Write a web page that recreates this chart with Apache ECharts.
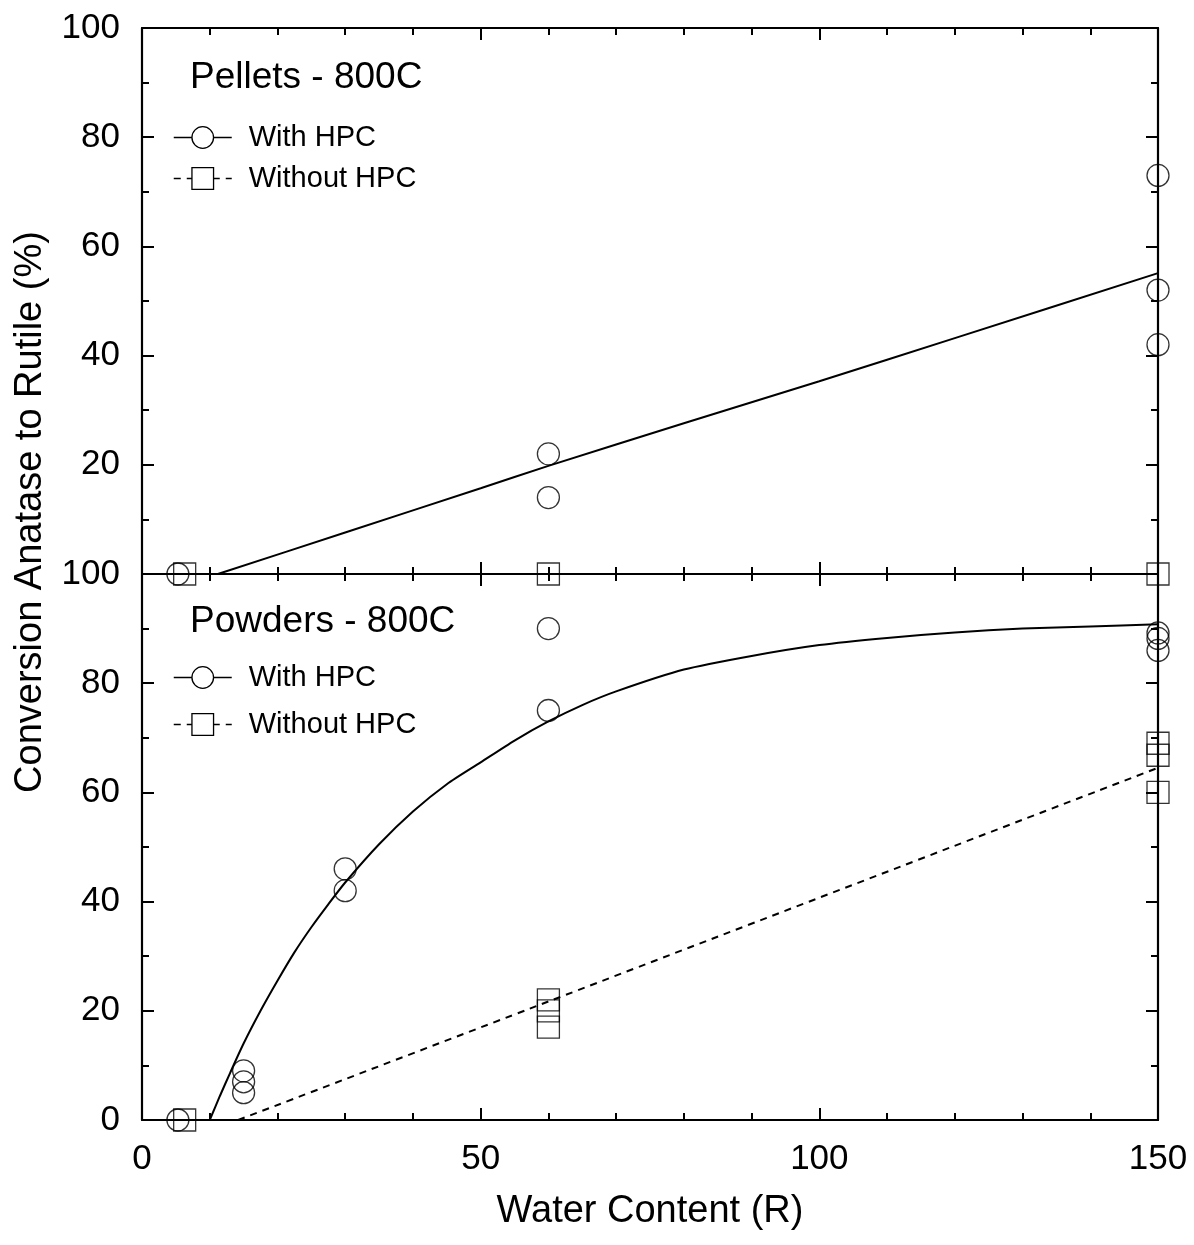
<!DOCTYPE html>
<html>
<head>
<meta charset="utf-8">
<title>Conversion Anatase to Rutile</title>
<script src="https://cdn.jsdelivr.net/npm/echarts@6/dist/echarts.min.js"></script>
<style>
  html, body { margin: 0; padding: 0; background: #fff; }
  #chart { width: 1194px; height: 1245px; }
</style>
</head>
<body>
<div id="chart"></div>
<script>
// axis ticks
const xLabels = [0, 50, 100, 150];
const yLabels = [0, 20, 40, 60, 80, 100];

// Pellets - 800C : measured points [R, %]
const pelletsWithPts = [[5.3, 0], [60, 22], [60, 14], [150, 73], [150, 52], [150, 42]];
const pelletsWithoutPts = [[6.3, 0], [60, 0], [150, 0]];
// fitted lines
const pelletsWithFit = [[11.2, 0], [30, 7.6], [50, 15.7], [60, 19.8], [80, 27.6], [100, 35.3], [120, 43.2], [150, 55.1]];
const pelletsWithoutFit = [[6.3, 0], [150, 0]];

// Powders - 800C : measured points
const powdersWithPts = [[5.3, 0], [15, 9], [15, 7], [15, 5], [30, 46], [30, 42], [60, 90], [60, 75], [150, 89.2], [150, 88.2], [150, 86]];
const powdersWithoutPts = [[6.3, 0], [60, 22], [60, 20], [60, 17], [150, 69], [150, 66.8], [150, 60]];
// fitted lines
const powdersWithFit = [[10, 0], [11.5, 4.4], [13, 8.6], [15, 14], [17.5, 20], [20, 25.5], [22.5, 30.7], [25, 35.3],
  [27.5, 39.5], [30, 43.5], [35, 50.5], [40, 56.5], [45, 61.5], [50, 65.5], [55, 69.5], [60, 73], [65, 76],
  [70, 78.5], [80, 82.5], [90, 85], [100, 87], [110, 88.3], [120, 89.3], [130, 90], [140, 90.4], [150, 90.8]];
const powdersWithoutFit = [[14.2, 0], [60, 21.7], [150, 64.5]];

const FONT = 'Liberation Sans';
const axisLine = { show: true, onZero: false, lineStyle: { color: '#000', width: 2.2 } };

function xAxisFor(gridIndex, position, showLabels) {
  return {
    type: 'value', gridIndex: gridIndex, position: position,
    min: 0, max: 150, interval: 50,
    axisLine: axisLine,
    axisTick: { show: true, inside: true, length: 12, lineStyle: { color: '#000', width: 2 } },
    minorTick: { show: true, splitNumber: 5, length: 7, lineStyle: { color: '#000', width: 2 } },
    splitLine: { show: false },
    axisLabel: {
      show: showLabels, margin: 22, color: '#000', fontFamily: FONT, fontSize: 35,
      formatter: v => xLabels.includes(v) ? String(v) : ''
    },
    name: showLabels ? 'Water Content (R)' : '',
    nameLocation: 'middle', nameGap: 73,
    nameTextStyle: { color: '#000', fontFamily: FONT, fontSize: 38 }
  };
}

function yAxisFor(gridIndex, position, showLabels, hideZero) {
  return {
    type: 'value', gridIndex: gridIndex, position: position,
    min: 0, max: 100, interval: 20,
    axisLine: axisLine,
    axisTick: { show: true, inside: true, length: 12, lineStyle: { color: '#000', width: 2 } },
    minorTick: { show: true, splitNumber: 2, length: 7, lineStyle: { color: '#000', width: 2 } },
    splitLine: { show: false },
    axisLabel: {
      show: showLabels, margin: 22, color: '#000', fontFamily: FONT, fontSize: 35,
      formatter: v => (hideZero && v === 0) || !yLabels.includes(v) ? '' : String(v)
    }
  };
}

function pts(name, data, symbol, xi, yi) {
  return {
    name: name, type: 'scatter', xAxisIndex: xi, yAxisIndex: yi,
    data: data, symbol: symbol, symbolSize: 22, clip: false, z: 5,
    itemStyle: { color: 'rgba(255,255,255,0)', borderColor: '#000', borderWidth: 1.3 }
  };
}

function fit(name, data, symbol, dashed, xi, yi) {
  return {
    name: name, type: 'line', xAxisIndex: xi, yAxisIndex: yi,
    data: data, symbol: symbol, showSymbol: false, clip: false,
    smooth: 0.25,
    itemStyle: { color: '#000' },
    lineStyle: { color: '#000', width: 2, type: dashed ? [7, 6] : 'solid' },
    emphasis: { disabled: true }
  };
}

function legendAt(top, gap) {
  return {
    data: ['With HPC', 'Without HPC'],
    orient: 'vertical', left: 173, top: top, padding: 0,
    itemWidth: 58, itemHeight: 27, itemGap: gap,
    selectedMode: false,
    itemStyle: { color: '#fff', borderColor: '#000', borderWidth: 1.3 },
    lineStyle: { color: '#000', width: 1.5 },
    textStyle: { color: '#000', fontFamily: FONT, fontSize: 29, padding: [0, 0, 0, 12] }
  };
}

const chart = echarts.init(document.getElementById('chart'));
chart.setOption({
  animation: false,
  backgroundColor: '#fff',
  title: [
    { text: 'Pellets - 800C', left: 190, top: 59, padding: 0,
      textStyle: { color: '#000', fontFamily: FONT, fontSize: 37, fontWeight: 'normal' } },
    { text: 'Powders - 800C', left: 190, top: 603, padding: 0,
      textStyle: { color: '#000', fontFamily: FONT, fontSize: 37, fontWeight: 'normal' } }
  ],
  legend: [legendAt(123, 12), legendAt(663, 18)],
  grid: [
    { left: 142, right: 36, top: 28, height: 546 },
    { left: 142, right: 36, top: 574, height: 546 }
  ],
  xAxis: [xAxisFor(0, 'bottom', false), xAxisFor(0, 'top', false), xAxisFor(1, 'bottom', true), xAxisFor(1, 'top', false)],
  yAxis: [yAxisFor(0, 'left', true, true), yAxisFor(0, 'right', false), yAxisFor(1, 'left', true, false), yAxisFor(1, 'right', false)],
  graphic: [{
    type: 'text', x: 31, y: 512, rotation: Math.PI / 2,
    style: { text: 'Conversion Anatase to Rutile (%)', fill: '#000', font: '38px "Liberation Sans"', align: 'center', verticalAlign: 'middle' }
  }],
  series: [
    fit('With HPC', pelletsWithFit, 'circle', false, 0, 0),
    fit('Without HPC', pelletsWithoutFit, 'rect', true, 0, 0),
    pts('Pellets with HPC', pelletsWithPts, 'circle', 0, 0),
    pts('Pellets without HPC', pelletsWithoutPts, 'rect', 0, 0),
    fit('With HPC', powdersWithFit, 'circle', false, 2, 2),
    fit('Without HPC', powdersWithoutFit, 'rect', true, 2, 2),
    pts('Powders with HPC', powdersWithPts, 'circle', 2, 2),
    pts('Powders without HPC', powdersWithoutPts, 'rect', 2, 2)
  ]
});
</script>
</body>
</html>
